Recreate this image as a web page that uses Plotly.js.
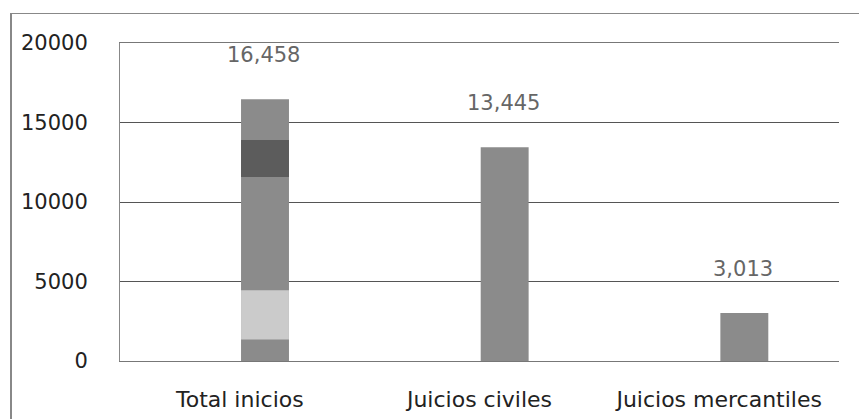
<!DOCTYPE html>
<html>
<head>
<meta charset="utf-8">
<script src="https://cdn.plot.ly/plotly-3.0.1.min.js"></script>
<style>
  body { margin: 0; background: #fff; }
  #frame { position: absolute; left: 10px; top: 13px; width: 900px; height: 460px;
           border-left: 2px solid #888; border-top: 1px solid #888; }
  #chart { position: absolute; left: 0; top: 0; width: 859px; height: 419px; }
</style>
</head>
<body>
<div id="frame"></div>
<div id="chart"></div>
<script>
var categories = ['Total inicios', 'Juicios civiles', 'Juicios mercantiles'];
var values = [16458, 13445, 3013];
var labels = ['16,458', '13,445', '3,013'];

// shaded bands of the scanned fill in the first bar
var bandBase = [1350, 11570];
var bandSize = [3100, 2330];
var bandColor = ['#cbcbcb', '#5c5c5c'];

var barWidth = 0.2;

var data = [{
  type: 'bar',
  x: categories,
  y: values,
  width: barWidth,
  offset: 0.005,
  marker: { color: '#8b8b8b' },
  hoverinfo: 'none'
}];

for (var i = 0; i < bandBase.length; i++) {
  data.push({
    type: 'bar',
    x: [categories[0]],
    y: [bandSize[i]],
    base: [bandBase[i]],
    width: barWidth,
    offset: 0.005,
    marker: { color: bandColor[i] },
    hoverinfo: 'none'
  });
}

var annotations = categories.map(function (c, i) {
  return {
    x: c, y: values[i], text: labels[i],
    showarrow: false, yanchor: 'middle', yshift: 44, xshift: 24,
    font: { family: 'DejaVu Sans, sans-serif', size: 21, color: '#666' }
  };
});

var layout = {
  width: 859,
  height: 419,
  showlegend: false,
  barmode: 'overlay',
  paper_bgcolor: 'rgba(0,0,0,0)',
  plot_bgcolor: '#fff',
  margin: { l: 120, r: 20, t: 43, b: 58, pad: 0 },
  xaxis: {
    showgrid: false,
    showline: true, linecolor: '#777', linewidth: 1, mirror: true,
    ticks: '', ticklabelstandoff: 19,
    tickfont: { family: 'DejaVu Sans, sans-serif', size: 22, color: '#222' }
  },
  yaxis: {
    range: [0, 20000],
    tick0: 0, dtick: 5000,
    showgrid: true, gridcolor: '#555', gridwidth: 1,
    showline: true, linecolor: '#888', linewidth: 1, mirror: false,
    zeroline: false,
    ticks: '', ticklabelstandoff: 27,
    tickformat: 'd',
    tickfont: { family: 'DejaVu Sans, sans-serif', size: 21, color: '#222' }
  },
  annotations: annotations
};

Plotly.newPlot('chart', data, layout, { displayModeBar: false, staticPlot: true });
</script>
</body>
</html>
